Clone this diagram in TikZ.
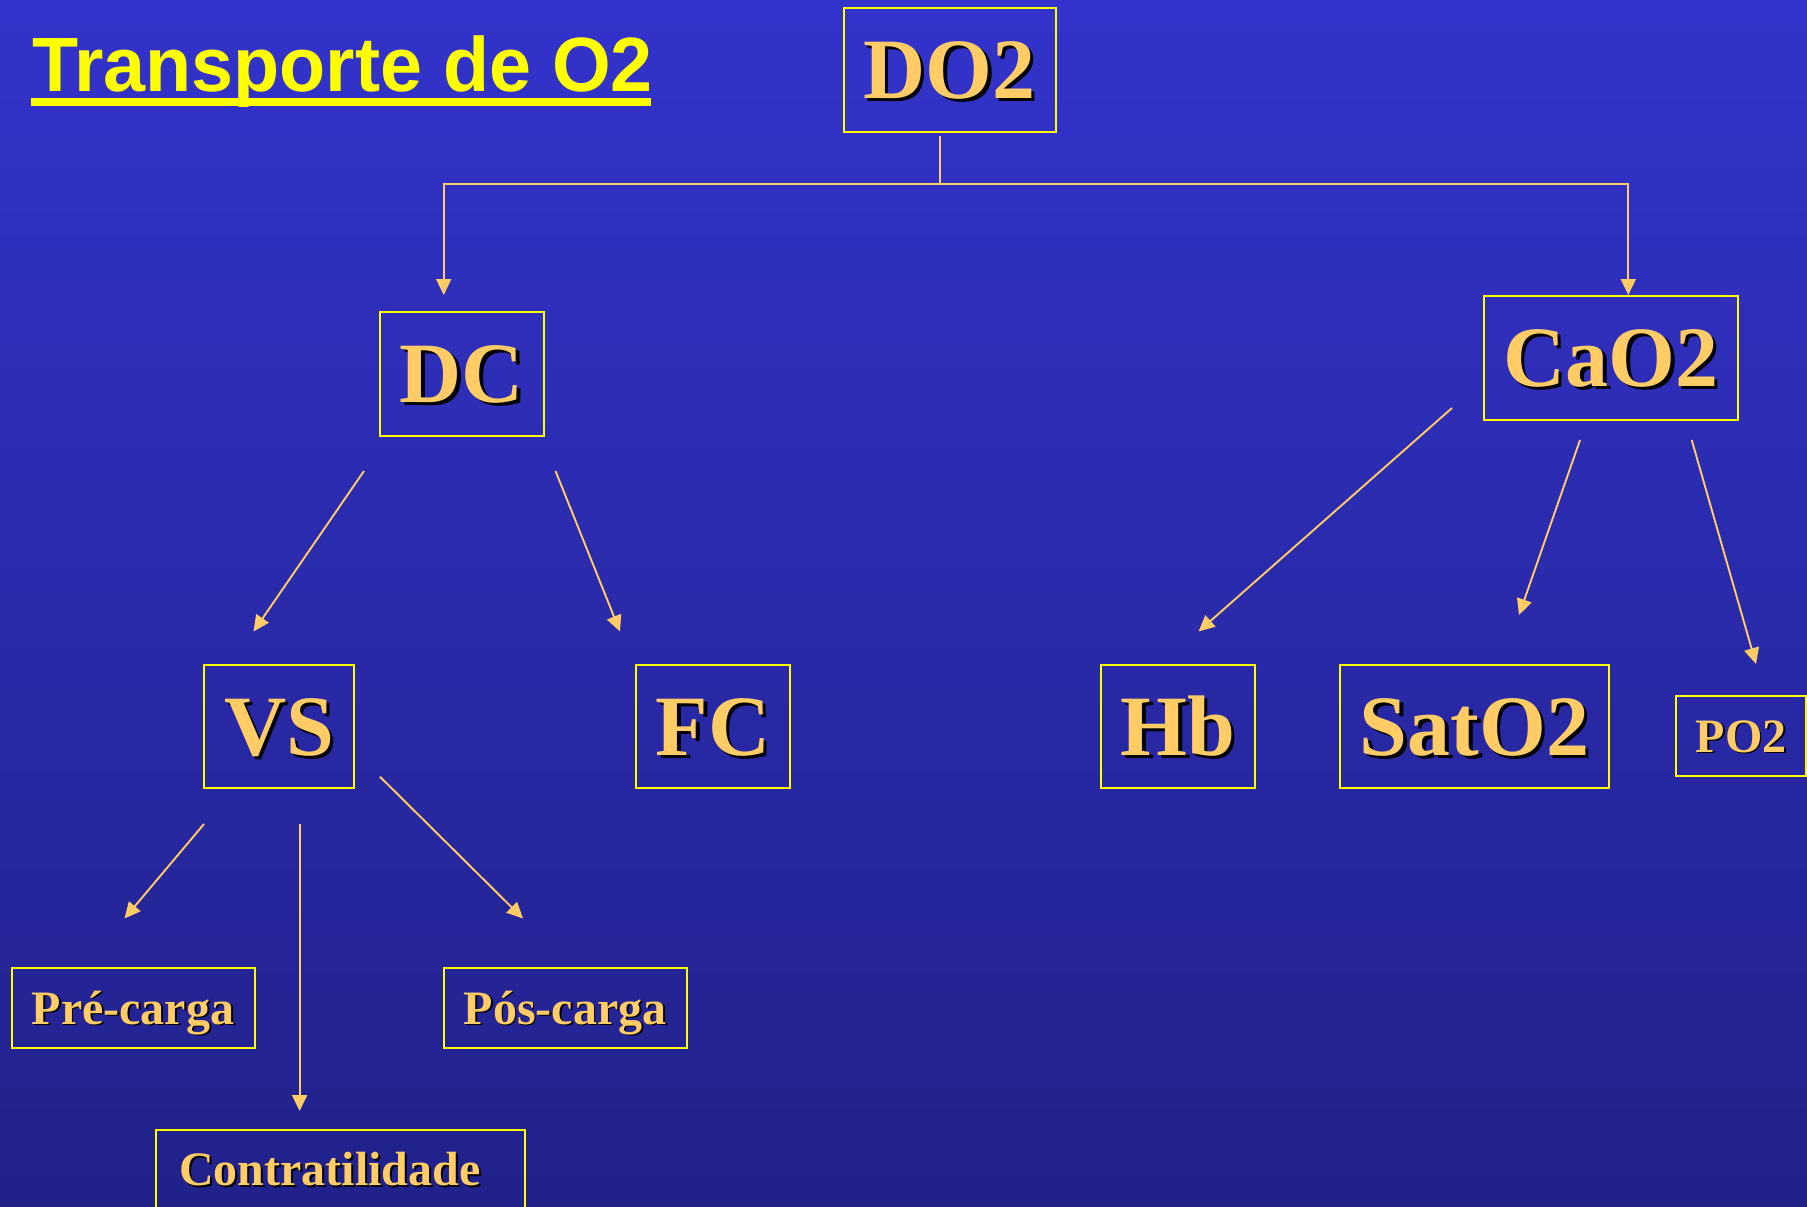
\documentclass[tikz,border=0pt]{standalone}
\usepackage{fontspec}
\setmainfont{Liberation Serif}
\newfontfamily\titlefont{Liberation Sans}
\usetikzlibrary{arrows.meta}
\definecolor{bgtop}{RGB}{51,51,204}
\definecolor{bgbot}{RGB}{33,33,138}
\definecolor{gold}{RGB}{255,204,102}
\definecolor{boxyel}{RGB}{255,255,0}
\newcommand\shtext[1]{\makebox[0pt][l]{\hspace{0.04em}\raisebox{-0.04em}{\color{black}#1}}#1}
\tikzset{
  box/.style={draw=boxyel, line width=2, inner sep=0, text=gold},
  big/.style={font=\fontsize{86}{86}\selectfont\bfseries, text height=57pt, text depth=0pt},
  small/.style={font=\fontsize{48}{48}\selectfont\bfseries, text height=32pt, text depth=0pt},
  conn/.style={draw=gold, line width=1.9},
  arr/.style={conn, -{Triangle[length=16,width=15]}},
}
\begin{document}
\begin{tikzpicture}[x=1pt,y=-1pt]
\useasboundingbox (0,0) rectangle (1807,1207);
\clip (0,0) rectangle (1807,1207);
\shade[top color=bgtop, bottom color=bgbot] (0,0) rectangle (1807,1207);

% title
\node[anchor=base west, inner sep=0, text=boxyel, font=\titlefont\fontsize{77}{77}\selectfont\bfseries] (title) at (32,91.7) {\scalebox{0.98}[1]{Transporte de O2}};
\draw[boxyel, line width=7.4] (31,102) -- (651,102);

% boxes
\node[box,big, minimum width=212, minimum height=124] (do2) at (949.5,70) {\shtext{DO2}};
\node[box,big, minimum width=164, minimum height=123.5] (dc) at (462,374) {\shtext{DC}};
\node[box,big, minimum width=254, minimum height=123.5] (cao2) at (1611,358) {\shtext{CaO2}};
\node[box,big, minimum width=150, minimum height=123] (vs) at (279,726.5) {\shtext{VS}};
\node[box,big, minimum width=154.5, minimum height=123] (fc) at (713,726.5) {\shtext{FC}};
\node[box,big, minimum width=154.5, minimum height=123] (hb) at (1178,726.5) {\shtext{Hb}};
\node[box,big, minimum width=269, minimum height=123] (sat) at (1474.5,726.5) {\shtext{SatO2}};
\node[box,small, minimum width=130, minimum height=79.5] (po2) at (1741,736) {\shtext{PO2}};
\node[box,small, minimum width=243, minimum height=79.5] (pre) at (133,1008) {\shtext{Pré-carga}};
\node[box,small, minimum width=243, minimum height=79.5] (pos) at (565,1008) {\shtext{Pós-carga}};
\node[box,small, minimum width=369, minimum height=79.5, anchor=north west] (contr) at (155,1129) {};
\node[small, text=gold, inner sep=0, anchor=west] (contrtxt) at ([xshift=24]contr.west) {\shtext{Contratilidade}};

% connector points
\coordinate (s1) at (940,136);
\coordinate (j) at (940,184.4);
\coordinate (dcin) at (443.7,295);
\coordinate (cain) at (1628.3,295);
\coordinate (dco1) at (364,471);   \coordinate (vsin) at (253.5,631.5);
\coordinate (dco2) at (555.5,471); \coordinate (fcin) at (620,631.5);
\coordinate (cao1) at (1452,408);  \coordinate (hbin) at (1198.5,631.5);
\coordinate (cao2o) at (1580,440); \coordinate (satin) at (1519,615);
\coordinate (cao3) at (1691.7,440); \coordinate (poin) at (1756,664);
\coordinate (vso1) at (204,824);   \coordinate (prein) at (124.5,918.5);
\coordinate (vso2) at (299.6,824); \coordinate (conin) at (299.6,1111);
\coordinate (vso3) at (380,776.7); \coordinate (posin) at (523,918.5);

\draw[conn] (s1) -- (j);
\draw[arr] (j) -| (dcin);
\draw[arr] (j) -| (cain);
\draw[arr] (dco1) -- (vsin);
\draw[arr] (dco2) -- (fcin);
\draw[arr] (cao1) -- (hbin);
\draw[arr] (cao2o) -- (satin);
\draw[arr] (cao3) -- (poin);
\draw[arr] (vso1) -- (prein);
\draw[arr] (vso2) -- (conin);
\draw[arr] (vso3) -- (posin);
\end{tikzpicture}
\end{document}
